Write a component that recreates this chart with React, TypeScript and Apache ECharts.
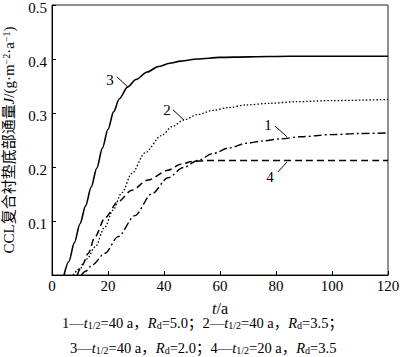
import React, { useEffect, useRef } from "react";
import * as echarts from "echarts";

const xMin = 0;
const xMax = 120;
const xStep = 20;
const yMin = 0;
const yMax = 0.5;
const yStep = 0.1;

// Curve 1: t1/2=40 a, Rd=5.0 (dash-dot)
const s1T = [10.5, 12, 14.2, 18.9, 23.6, 29.6, 35.6, 41.4, 47, 52, 57.6, 63, 69.5, 75, 81.4, 88.6, 100, 110, 120];
const s1V = [0, 0.007, 0.018, 0.04, 0.071, 0.11, 0.15, 0.18, 0.199, 0.212, 0.225, 0.235, 0.244, 0.248, 0.252, 0.256, 0.26, 0.262, 0.263];
// Curve 2: t1/2=40 a, Rd=3.5 (dotted)
const s2T = [7.5, 10, 12.5, 15.4, 18.9, 21.8, 24.9, 28.5, 33.2, 39, 43, 47, 52, 57.6, 63, 69.5, 78, 87.4, 100, 120];
const s2V = [0, 0.012, 0.03, 0.052, 0.089, 0.12, 0.152, 0.188, 0.226, 0.258, 0.275, 0.287, 0.297, 0.305, 0.31, 0.315, 0.318, 0.321, 0.323, 0.325];
// Curve 3: t1/2=40 a, Rd=2.0 (solid)
const s3T = [4.3, 6, 8, 10, 12, 14, 16, 18, 20, 22, 24, 27, 30, 34, 38, 42, 46, 52, 60, 70, 85, 100, 120];
const s3V = [0, 0.025, 0.06, 0.095, 0.128, 0.163, 0.198, 0.235, 0.27, 0.302, 0.326, 0.348, 0.362, 0.376, 0.386, 0.392, 0.396, 0.4, 0.403, 0.404, 0.405, 0.405, 0.405];
// Curve 4: t1/2=20 a, Rd=3.5 (dashed)
const s4T = [9, 11, 12.9, 15.4, 18.9, 23.6, 28.5, 34.3, 41.4, 46, 50, 55, 70, 90, 120];
const s4V = [0, 0.02, 0.04, 0.071, 0.106, 0.136, 0.157, 0.176, 0.194, 0.205, 0.21, 0.212, 0.212, 0.212, 0.212];

// Curve number annotations (data coordinates): label position, pointer start, pointer end
const curveNames = ["1", "2", "3", "4"];
const labelPos: [number, number][] = [[77.1, 0.278], [41.1, 0.306], [20.7, 0.361], [77.9, 0.181]];
const pointerFrom: [number, number][] = [[79.6, 0.276], [43.2, 0.306], [23.2, 0.367], [80.7, 0.191]];
const pointerTo: [number, number][] = [[83.9, 0.256], [47.1, 0.287], [27.1, 0.348], [83.9, 0.209]];

const legendLine1 = "1—{i|t}{sub|1/2}=40 a，{i|R}{sub|d}=5.0；2—{i|t}{sub|1/2}=40 a，{i|R}{sub|d}=3.5；";
const legendLine2 = "3—{i|t}{sub|1/2}=40 a，{i|R}{sub|d}=2.0；4—{i|t}{sub|1/2}=20 a，{i|R}{sub|d}=3.5";

const FONT = "Liberation Serif, Noto Sans CJK SC, serif";

const zip = (t: number[], v: number[]) => t.map((x, i) => [x, v[i]]);

export default function App() {
  const ref = useRef<HTMLDivElement>(null);
  useEffect(() => {
    const chart = echarts.init(ref.current!, null, { renderer: "svg" });
    const lineSeries = (data: number[][], type: any, width: number) => ({
      type: "line",
      data,
      showSymbol: false,
      symbol: "none",
      smooth: 0.3,
      smoothMonotone: "x",
      lineStyle: { color: "#000", width, type },
      z: 3,
    });
    chart.setOption({
      animation: false,
      backgroundColor: "#fff",
      textStyle: { fontFamily: FONT, color: "#000" },
      grid: {
        left: 52,
        right: 12,
        top: 5,
        bottom: 82,
        containLabel: false,
        outerBoundsMode: "none",
        show: true,
        borderColor: "#222",
        borderWidth: 1,
        backgroundColor: "transparent",
      },
      xAxis: {
        type: "value",
        min: xMin,
        max: xMax,
        interval: xStep,
        name: "{i|t}/a",
        nameLocation: "middle",
        nameGap: 25,
        nameTextStyle: {
          fontFamily: FONT,
          fontSize: 16,
          lineHeight: 16,
          color: "#000",
          rich: { i: { fontStyle: "italic", fontFamily: FONT, fontSize: 16, lineHeight: 16, color: "#000" } },
        },
        axisLine: { show: true, lineStyle: { color: "#000", width: 1 } },
        axisTick: { show: true, inside: true, length: 4, lineStyle: { color: "#000" } },
        axisLabel: { fontFamily: FONT, fontSize: 15, color: "#000", margin: 3 },
        splitLine: { show: false },
      },
      yAxis: {
        type: "value",
        min: yMin,
        max: yMax,
        interval: yStep,
        name: "CCL复合衬垫底部通量{i|J}/(g·m{sup|−2}·a{sup|−1})",
        nameLocation: "middle",
        nameRotate: 90,
        nameGap: 31,
        nameTextStyle: {
          fontFamily: FONT,
          fontSize: 15,
          color: "#000",
          lineHeight: 16,
          rich: {
            i: { fontStyle: "italic", fontFamily: FONT, fontSize: 15, color: "#000", lineHeight: 16 },
            sup: { fontFamily: FONT, fontSize: 10, color: "#000", lineHeight: 10, verticalAlign: "top" },
          },
        },
        axisLine: { show: true, lineStyle: { color: "#000", width: 1 } },
        axisTick: { show: true, inside: true, length: 4, lineStyle: { color: "#000" } },
        axisLabel: {
          fontFamily: FONT,
          fontSize: 15,
          color: "#000",
          margin: 5,
          showMinLabel: false,
          formatter: (v: number) => `{n|${v.toFixed(1)}}`,
          rich: {
            n: { fontFamily: FONT, fontSize: 15, color: "#000", lineHeight: 15, padding: [6, 0, 0, 0] },
          },
        },
        splitLine: { show: false },
      },
      series: [
        lineSeries(zip(s1T, s1V), [8, 3, 2, 3], 1.4),
        lineSeries(zip(s2T, s2V), [1.5, 2], 1.3),
        lineSeries(zip(s3T, s3V), "solid", 1.6),
        lineSeries(zip(s4T, s4V), [7, 4], 1.5),
      ],
    });

    const graphics: any[] = [];
    curveNames.forEach((name, i) => {
      const p = chart.convertToPixel({ gridIndex: 0 }, labelPos[i]) as number[];
      const a = chart.convertToPixel({ gridIndex: 0 }, pointerFrom[i]) as number[];
      const b = chart.convertToPixel({ gridIndex: 0 }, pointerTo[i]) as number[];
      graphics.push({
        type: "text",
        style: { text: name, x: p[0], y: p[1], font: `15px ${FONT}`, fill: "#000", align: "center", verticalAlign: "middle" },
      });
      graphics.push({
        type: "line",
        shape: { x1: a[0], y1: a[1], x2: b[0], y2: b[1] },
        style: { stroke: "#000", lineWidth: 1 },
      });
    });
    const legendRich = {
      i: { fontStyle: "italic", fontFamily: FONT, fontSize: 14.5, fill: "#000", lineHeight: 15 },
      sub: { fontFamily: FONT, fontSize: 10, fill: "#000", lineHeight: 10, verticalAlign: "bottom" },
    };
    [legendLine1, legendLine2].forEach((txt, k) => {
      graphics.push({
        type: "text",
        style: {
          text: txt,
          x: k === 0 ? 62 : 70,
          y: k === 0 ? 323 : 348,
          fontFamily: FONT,
          fontSize: 14.5,
          fill: "#000",
          lineHeight: 15,
          align: "left",
          verticalAlign: "middle",
          rich: legendRich,
        },
      });
    });
    chart.setOption({ graphic: graphics });
    return () => chart.dispose();
  }, []);
  return <div ref={ref} style={{ position: "fixed", left: 0, top: 0, width: 400, height: 357 }} />;
}
